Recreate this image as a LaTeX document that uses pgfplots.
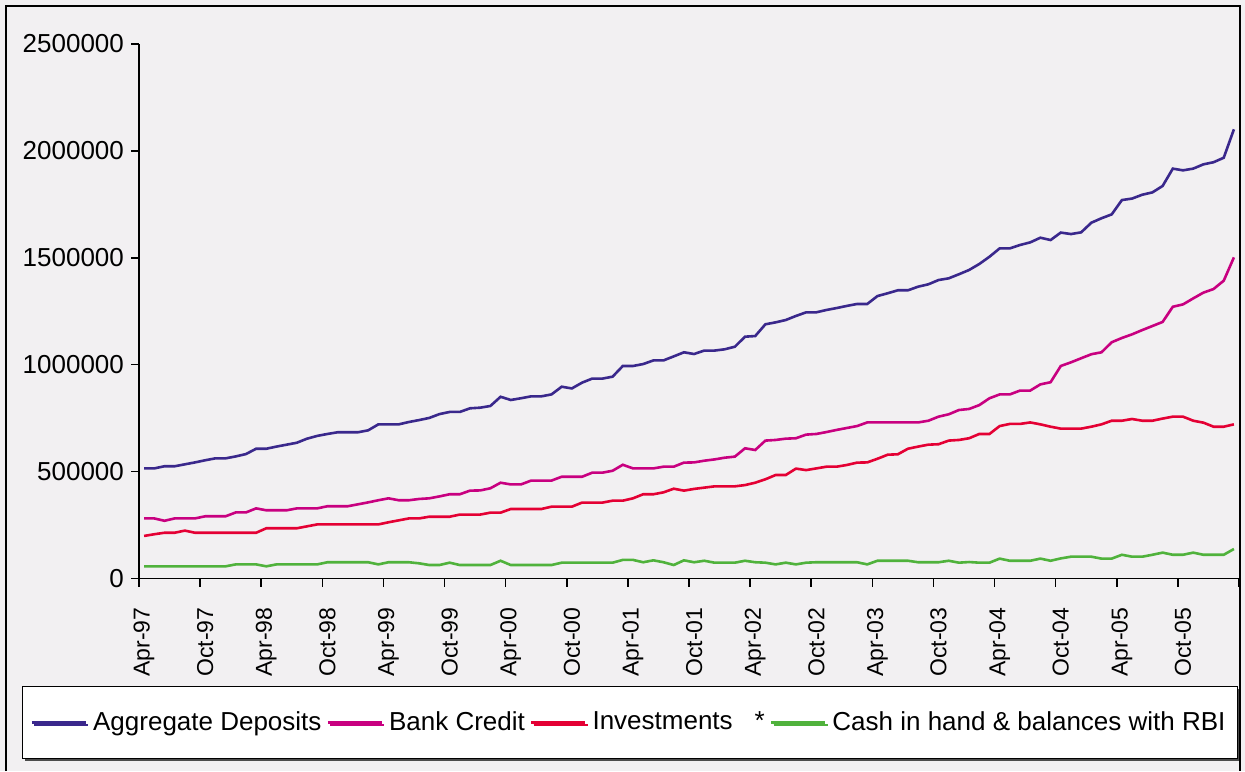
\documentclass[border=0pt]{standalone}
\usepackage{fontspec}
\setmainfont{Liberation Sans}
\usepackage{pgfplots}
\pgfplotsset{compat=1.18}
\usepackage{pgfplotstable}
\usetikzlibrary{shadows}

\definecolor{bg}{RGB}{242,240,242}
\definecolor{cdep}{RGB}{58,40,140}
\definecolor{ccred}{RGB}{200,0,128}
\definecolor{cinv}{RGB}{228,0,52}
\definecolor{ccash}{RGB}{80,178,60}

% monthly series, Apr-97 (i=0) to Mar-06 (i=107)
\pgfplotstableread{
i ad bc inv cash
0 515000 281000 199000 57000
1 515000 281000 207000 57000
2 525000 270000 214000 57000
3 525000 281000 214000 57000
4 534000 281000 224000 57000
5 543000 281000 214000 57000
6 553000 291000 214000 57000
7 562000 291000 214000 57000
8 562000 291000 214000 57000
9 571000 309000 214000 66000
10 582000 309000 214000 66000
11 607000 328000 214000 66000
12 607000 319000 235000 57000
13 617000 319000 235000 66000
14 626000 319000 235000 66000
15 635000 328000 235000 66000
16 654000 328000 244000 66000
17 667000 328000 253000 66000
18 676000 338000 253000 76000
19 684000 338000 253000 76000
20 684000 338000 253000 76000
21 684000 347000 253000 76000
22 693000 356000 253000 76000
23 721000 366000 253000 66000
24 721000 375000 263000 76000
25 721000 366000 272000 76000
26 732000 366000 281000 76000
27 741000 372000 281000 71000
28 751000 375000 289000 63000
29 769000 384000 289000 63000
30 779000 394000 289000 74000
31 779000 394000 299000 63000
32 796000 411000 299000 63000
33 799000 412000 299000 63000
34 807000 422000 308000 63000
35 850000 448000 308000 83000
36 835000 440000 325000 63000
37 843000 440000 325000 63000
38 852000 458000 325000 63000
39 852000 458000 325000 63000
40 861000 458000 336000 63000
41 897000 476000 336000 74000
42 889000 476000 336000 74000
43 916000 476000 355000 74000
44 935000 495000 355000 74000
45 935000 495000 355000 74000
46 944000 504000 364000 74000
47 994000 532000 364000 87000
48 994000 515000 375000 87000
49 1003000 515000 394000 76000
50 1020000 515000 394000 85000
51 1020000 523000 403000 76000
52 1039000 523000 420000 63000
53 1058000 542000 411000 85000
54 1050000 543000 419000 76000
55 1066000 551000 425000 83000
56 1066000 557000 431000 74000
57 1072000 565000 431000 74000
58 1084000 570000 431000 74000
59 1131000 609000 437000 83000
60 1134000 601000 448000 76000
61 1189000 645000 464000 74000
62 1198000 648000 484000 66000
63 1209000 654000 484000 74000
64 1228000 656000 514000 66000
65 1245000 673000 507000 74000
66 1245000 676000 515000 76000
67 1256000 685000 523000 76000
68 1265000 695000 523000 76000
69 1275000 704000 531000 76000
70 1284000 713000 542000 76000
71 1284000 730000 543000 66000
72 1321000 730000 560000 83000
73 1334000 730000 579000 83000
74 1348000 730000 581000 83000
75 1348000 730000 607000 83000
76 1365000 730000 617000 76000
77 1376000 738000 626000 76000
78 1396000 757000 628000 76000
79 1404000 768000 645000 83000
80 1423000 788000 648000 74000
81 1443000 793000 656000 77000
82 1471000 811000 676000 74000
83 1505000 843000 676000 74000
84 1544000 861000 713000 93000
85 1544000 861000 723000 83000
86 1560000 879000 723000 83000
87 1572000 879000 730000 83000
88 1594000 908000 721000 93000
89 1583000 918000 710000 83000
90 1618000 994000 701000 94000
91 1611000 1011000 701000 102000
92 1619000 1030000 701000 102000
93 1664000 1049000 710000 102000
94 1685000 1058000 721000 93000
95 1703000 1105000 738000 93000
96 1770000 1125000 738000 111000
97 1777000 1142000 746000 102000
98 1795000 1162000 738000 102000
99 1806000 1181000 738000 111000
100 1836000 1200000 748000 121000
101 1917000 1271000 757000 111000
102 1909000 1282000 757000 111000
103 1917000 1310000 738000 121000
104 1937000 1337000 729000 111000
105 1947000 1354000 710000 111000
106 1968000 1393000 710000 111000
107 2101000 1502000 721000 138000
}\banks

\begin{document}
\begin{tikzpicture}
\fill[bg] (0,0) rectangle (622.5pt,385.5pt);
\begin{axis}[
  at={(69.5pt,96.25pt)}, anchor=south west,
  scale only axis, width=550pt, height=267.25pt,
  xmin=-0.5, xmax=107.5, ymin=0, ymax=2500000,
  axis lines*=left,
  axis line style={line width=0.75pt},
  tick align=outside, major tick length=4pt,
  tick style={black, line width=0.75pt},
  xtick={-0.5,5.5,...,107.5},
  xticklabels={Apr-97,Oct-97,Apr-98,Oct-98,Apr-99,Oct-99,Apr-00,Oct-00,Apr-01,Oct-01,Apr-02,Oct-02,Apr-03,Oct-03,Apr-04,Oct-04,Apr-05,Oct-05,{}},
  xticklabel style={font=\fontsize{11.5}{13}\selectfont, xshift=2.55pt, yshift=-7pt, rotate=90, anchor=east},
  ytick={0,500000,1000000,1500000,2000000,2500000},
  scaled y ticks=false,
  yticklabel style={font=\fontsize{13}{15}\selectfont, /pgf/number format/fixed, /pgf/number format/1000 sep={}},
  /pgf/number format/assume math mode=true,
  no marks,
  legend columns=4,
  legend cell align=left,
  legend image code/.code={\draw[#1, mark=none, line cap=butt] (0pt,0pt) -- (27pt,0pt);},
  legend style={at={(0.4464,-0.2694)}, anchor=center, fill=white, draw=black,
    inner xsep=4pt, inner ysep=10.5pt,
    font=\fontsize{13}{15}\selectfont,
    drop shadow={shadow xshift=1.2pt, shadow yshift=-1.2pt, opacity=1, fill=black!70},
    /tikz/every odd column/.append style={column sep=1pt},
    /tikz/every even column/.append style={column sep=0.5pt}},
  every axis plot/.append style={line width=1.3pt},
]
\addplot[cdep] table[x=i, y=ad] {\banks};
\addlegendentry{Aggregate Deposits}
\addplot[ccred] table[x=i, y=bc] {\banks};
\addlegendentry{Bank Credit}
\addplot[cinv] table[x=i, y=inv] {\banks};
\addlegendentry{Investments\hspace{11pt}*}
\addplot[ccash] table[x=i, y=cash] {\banks};
\addlegendentry{Cash in hand \& balances with RBI}
\end{axis}
\draw[line width=0.75pt] (3pt,0) -- (3pt,382.5pt) -- (620pt,382.5pt) -- (620pt,0);
\pgfresetboundingbox
\useasboundingbox (0,0) rectangle (622.5pt,385.5pt);
\end{tikzpicture}
\end{document}
